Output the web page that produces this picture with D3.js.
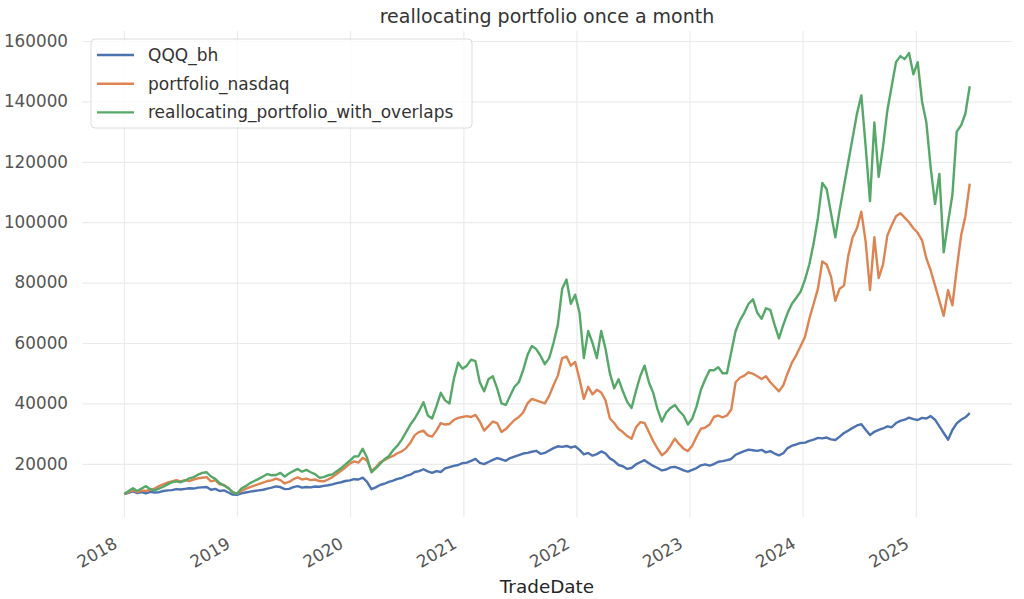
<!DOCTYPE html>
<html>
<head>
<meta charset="utf-8">
<script src="https://cdn.jsdelivr.net/npm/d3@7"></script>
<style>
body { margin: 0; background: #fff; }
svg { display: block; font-family: "DejaVu Sans", sans-serif; }
</style>
</head>
<body>
<svg id="chart" width="1024" height="599"></svg>
<script>
// series, one value every two weeks, in thousands of USD
const seriesNames = ["QQQ_bh", "portfolio_nasdaq", "reallocating_portfolio_with_overlaps"];
const seriesColors = ["#4c72b0", "#dd8452", "#55a868"];
const firstDate = "2018-01-02";
const stepDays = 14;

const qqqBh = [
  10.0,10.4,10.9,10.3,10.6,10.2,10.7,10.5,10.6,11.0,
  11.2,11.3,11.6,11.5,11.7,11.9,11.8,12.1,12.2,12.3,
  11.4,11.7,11.0,11.2,10.5,9.8,9.7,10.2,10.5,10.8,
  11.0,11.2,11.4,11.8,12.1,12.5,12.3,11.6,11.7,12.3,
  12.6,12.1,12.3,12.2,12.5,12.4,12.7,12.9,13.2,13.6,
  13.9,14.3,14.5,14.9,14.8,15.4,14.0,11.6,12.2,13.0,
  13.4,14.0,14.4,15.0,15.3,16.0,16.4,17.3,17.6,18.2,
  17.5,17.0,17.6,17.3,18.5,18.9,19.3,19.6,20.2,20.4,
  21.0,21.6,20.3,19.9,20.6,21.3,21.9,21.5,21.0,21.9,
  22.4,22.9,23.4,23.6,24.0,24.3,23.3,23.6,24.4,25.2,
  25.8,25.6,25.9,25.4,25.8,24.6,23.1,23.6,22.7,23.2,
  24.1,23.4,21.8,20.9,19.6,19.2,18.3,18.6,19.8,20.5,
  21.2,20.2,19.3,18.6,17.8,18.1,18.8,19.0,18.5,17.8,
  17.4,18.0,18.6,19.5,19.8,19.4,19.9,20.7,20.9,21.2,
  21.6,23.0,23.6,24.2,24.7,24.5,24.3,24.6,23.8,24.2,
  23.4,22.8,23.5,25.2,26.0,26.4,26.9,27.0,27.6,28.0,
  28.6,28.4,28.7,28.1,27.9,29.0,30.2,31.0,31.9,32.7,
  33.1,31.3,29.5,30.6,31.2,31.7,32.4,32.1,33.5,34.2,
  34.6,35.3,34.8,34.5,35.2,35.0,35.8,34.6,32.4,30.2,
  28.0,31.2,33.4,34.6,35.4,36.8
];

const portfolioNasdaq = [
  10.0,10.6,11.3,10.6,11.2,11.0,11.4,11.8,12.6,13.2,
  13.8,14.2,14.6,14.2,14.6,14.3,14.8,15.2,15.4,15.6,
  14.2,14.6,13.2,13.0,11.9,10.5,10.2,11.0,11.7,12.3,
  12.8,13.3,13.8,14.3,14.5,15.1,14.6,13.5,14.0,14.9,
  15.5,14.8,15.1,14.6,14.8,14.3,14.2,14.8,15.6,16.6,
  17.7,18.8,20.0,20.8,20.4,22.0,21.0,17.6,18.8,20.5,
  21.2,22.0,22.6,23.5,24.1,25.2,27.0,29.5,30.5,31.0,
  29.4,29.0,31.0,33.5,33.0,33.2,34.5,35.2,35.5,35.8,
  35.5,36.2,34.0,31.0,32.5,34.0,33.5,30.5,31.5,33.0,
  34.5,35.5,37.0,40.0,41.5,41.0,40.5,40.0,42.5,46.0,
  49.2,55.0,55.5,52.5,53.7,48.0,41.5,45.5,43.0,44.5,
  43.6,41.0,35.0,33.5,31.5,30.5,29.2,28.3,32.0,33.8,
  33.5,30.5,27.5,25.0,22.8,24.0,26.0,28.3,26.5,25.0,
  24.2,26.0,29.0,31.6,32.0,33.0,35.5,36.0,35.4,36.0,
  38.0,47.0,48.5,49.2,50.3,49.8,49.0,48.1,49.0,47.0,
  45.5,44.0,46.0,50.0,53.5,56.0,59.0,62.0,68.0,73.0,
  78.0,87.0,86.0,82.0,74.0,78.0,79.0,89.0,95.0,98.0,
  103.5,93.5,77.5,95.0,81.5,86.0,95.6,99.0,102.0,103.0,
  101.5,100.0,98.0,96.5,94.0,88.0,84.0,79.0,74.0,69.0,
  77.5,72.5,84.5,95.5,102.0,112.8
];

const reallocatingOverlaps = [
  10.0,11.0,11.9,11.0,11.8,12.6,11.6,11.2,11.8,12.4,
  13.2,13.9,14.2,13.9,14.4,15.2,15.6,16.4,17.0,17.2,
  15.8,15.0,13.6,12.8,12.0,10.6,10.0,11.8,12.6,13.6,
  14.3,15.0,15.8,16.6,16.2,16.3,17.0,15.8,16.8,17.6,
  18.3,17.4,18.0,17.2,16.6,15.4,15.6,16.2,16.5,17.5,
  18.5,19.8,21.0,22.4,22.5,25.0,22.0,17.2,18.5,20.0,
  21.5,22.5,24.5,26.0,28.0,30.5,33.0,35.0,37.5,40.4,
  36.0,35.0,39.0,43.5,41.0,40.0,48.0,53.5,51.5,52.5,
  54.5,54.0,47.0,44.0,48.0,49.0,45.0,40.0,39.5,42.5,
  45.5,47.0,51.0,56.0,59.0,58.0,55.8,53.0,55.0,60.0,
  66.0,78.0,81.0,73.0,76.0,70.0,55.0,64.0,60.0,55.0,
  64.0,58.0,50.0,45.0,48.0,44.0,40.5,38.5,44.0,49.0,
  52.5,47.0,43.5,38.0,34.0,37.0,38.5,39.5,37.5,36.0,
  33.0,35.0,39.0,44.5,48.0,51.0,51.0,52.0,50.0,50.0,
  57.0,64.0,67.5,70.0,73.0,74.5,70.0,68.0,71.5,71.0,
  66.0,61.5,66.0,70.0,73.0,75.0,77.0,81.0,86.0,93.0,
  101.5,113.0,111.0,103.0,95.0,104.0,112.0,120.0,128.0,136.0,
  142.0,125.0,107.0,133.0,115.0,125.0,137.0,145.0,153.0,155.0,
  154.0,156.0,149.0,153.0,140.0,133.0,118.0,106.0,116.0,90.0,
  100.0,109.0,130.0,132.0,136.0,145.0
];

const yTicks = [20000, 40000, 60000, 80000, 100000, 120000, 140000, 160000];
const xTickYears = [2018, 2019, 2020, 2021, 2022, 2023, 2024, 2025];
const titleText = "reallocating portfolio once a month";
const xLabelText = "TradeDate";

const svg = d3.select("#chart");
const margin = {left: 82, right: 12, top: 31, bottom: 82};
const W = 1024, H = 599;
const plotW = W - margin.left - margin.right;
const plotH = H - margin.top - margin.bottom;

const start = d3.utcParse("%Y-%m-%d")(firstDate);
const dates = qqqBh.map((_, i) => d3.utcDay.offset(start, i * stepDays));
const allSeries = [qqqBh, portfolioNasdaq, reallocatingOverlaps].map((vals, k) => ({
  name: seriesNames[k],
  color: seriesColors[k],
  points: vals.map((v, i) => ({date: dates[i], value: v * 1000}))
}));

// matplotlib style 5% margins
const tExt = d3.extent(dates);
const tPad = (tExt[1] - tExt[0]) * 0.05;
const allVals = allSeries.flatMap(s => s.points.map(p => p.value));
const vExt = d3.extent(allVals);
const vPad = (vExt[1] - vExt[0]) * 0.05;

const x = d3.scaleUtc()
  .domain([new Date(+tExt[0] - tPad), new Date(+tExt[1] + tPad)])
  .range([0, plotW]);
const y = d3.scaleLinear()
  .domain([vExt[0] - vPad, vExt[1] + vPad])
  .range([plotH, 0]);

const g = svg.append("g").attr("transform", `translate(${margin.left},${margin.top})`);

const yearDates = xTickYears.map(yr => new Date(Date.UTC(yr, 0, 1)));

// grid
g.append("g")
  .call(d3.axisLeft(y).tickValues(yTicks).tickSize(-plotW).tickFormat(""))
  .call(a => a.select(".domain").remove())
  .call(a => a.selectAll("line").attr("stroke", "#ebebeb").attr("stroke-width", 1.2));
g.append("g")
  .attr("transform", `translate(0,${plotH})`)
  .call(d3.axisBottom(x).tickValues(yearDates).tickSize(-plotH).tickFormat(""))
  .call(a => a.select(".domain").remove())
  .call(a => a.selectAll("line").attr("stroke", "#ebebeb").attr("stroke-width", 1.2));

// lines
const line = d3.line().x(d => x(d.date)).y(d => y(d.value));
g.selectAll(".series")
  .data(allSeries)
  .enter()
  .append("path")
  .attr("class", "series")
  .attr("fill", "none")
  .attr("stroke", d => d.color)
  .attr("stroke-width", 2.4)
  .attr("stroke-linejoin", "round")
  .attr("d", d => line(d.points));

// y tick labels
g.append("g")
  .call(d3.axisLeft(y).tickValues(yTicks).tickSize(0).tickPadding(14).tickFormat(d3.format("d")))
  .call(a => a.select(".domain").remove())
  .call(a => a.selectAll("text")
    .attr("fill", "#555")
    .style("font-size", "16.8px")
    .style("font-family", "DejaVu Sans"));

// x tick labels, rotated like autofmt_xdate
g.append("g")
  .attr("transform", `translate(0,${plotH})`)
  .call(d3.axisBottom(x).tickValues(yearDates).tickSize(0).tickFormat(d3.utcFormat("%Y")))
  .call(a => a.select(".domain").remove())
  .call(a => a.selectAll("text")
    .attr("x", 0).attr("y", 0).attr("dy", 0)
    .attr("text-anchor", "end")
    .attr("transform", "translate(-6,30) rotate(-30)")
    .attr("fill", "#555")
    .style("font-size", "16.8px")
    .style("font-family", "DejaVu Sans"));

// title and x label
svg.append("text")
  .attr("x", margin.left + plotW / 2).attr("y", 22.5)
  .attr("text-anchor", "middle")
  .attr("fill", "#333")
  .style("font-size", "19px")
  .text(titleText);
svg.append("text")
  .attr("x", margin.left + plotW / 2).attr("y", 593)
  .attr("text-anchor", "middle")
  .attr("fill", "#262626")
  .style("font-size", "18.4px")
  .text(xLabelText);

// legend
const legend = svg.append("g").attr("transform", "translate(91,39)");
legend.append("rect")
  .attr("width", 381).attr("height", 89)
  .attr("rx", 4)
  .attr("fill", "#fff").attr("fill-opacity", 0.8)
  .attr("stroke", "#dcdcdc").attr("stroke-width", 1);
const items = legend.selectAll(".item")
  .data(allSeries)
  .enter()
  .append("g")
  .attr("transform", (d, i) => `translate(0,${16 + i * 28.7})`);
items.append("line")
  .attr("x1", 6).attr("x2", 43)
  .attr("stroke", d => d.color)
  .attr("stroke-width", 2.4);
items.append("text")
  .attr("x", 57).attr("dy", "0.35em")
  .attr("fill", "#333")
  .style("font-size", "17px")
  .text(d => d.name);
</script>
</body>
</html>
